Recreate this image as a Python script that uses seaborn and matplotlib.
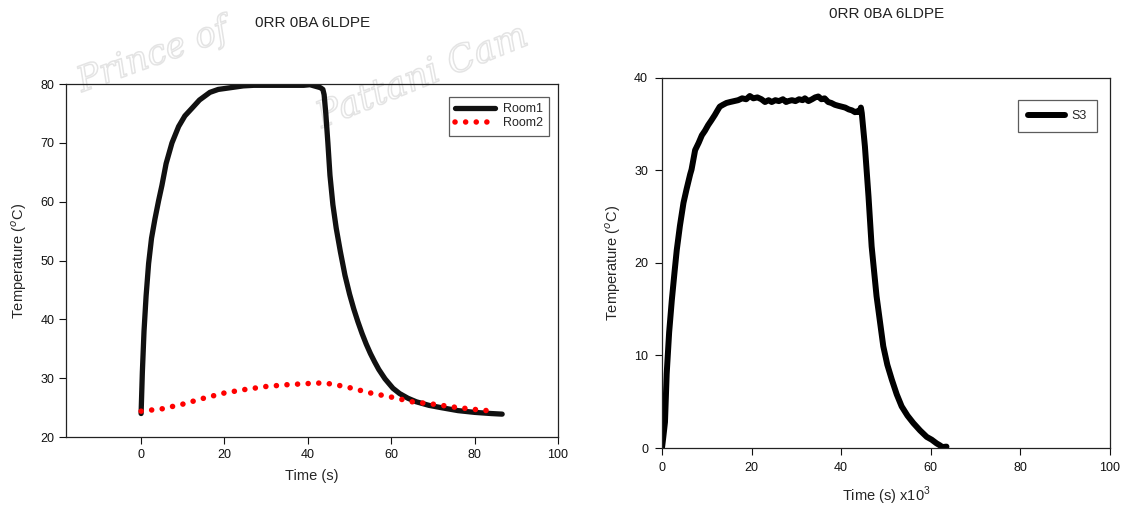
import matplotlib
matplotlib.use("Agg")
import matplotlib.pyplot as plt
import matplotlib.patheffects as pe
from matplotlib import font_manager
import seaborn as sns
import pandas as pd

# ---------------- data ----------------
room1_t = [0, 0.3, 0.7, 1.2, 1.8, 2.5, 3.3, 4.2, 5.0, 6.0, 7.4, 9.0, 10.5, 12.2, 14.0,
           16.5, 18.5, 20.5, 22.5, 24.5, 27, 30, 33, 36, 39, 40.5, 42, 43.0, 43.6, 43.9,
           44.3, 44.8, 45.3, 46.0, 46.8, 47.8, 48.9, 50.0, 51.0, 52.0, 53.0, 54.0, 55.0,
           56.0, 57.0, 58.5, 60.4, 62, 64, 66, 69, 72, 76, 80, 84, 86.6]
room1_T = [24.0, 31.0, 38.0, 44.0, 49.5, 53.8, 57.0, 60.2, 62.8, 66.5, 70.0, 72.8, 74.6, 75.9, 77.3,
           78.6, 79.1, 79.3, 79.5, 79.7, 79.8, 79.8, 79.8, 79.8, 79.8, 79.9, 79.6, 79.4, 79.1, 78.2,
           75.0, 70.0, 64.5, 59.5, 55.5, 51.5, 47.5, 44.3, 41.8, 39.6, 37.6, 35.8, 34.2,
           32.8, 31.5, 29.9, 28.3, 27.4, 26.6, 26.0, 25.4, 25.0, 24.5, 24.2, 24.0, 23.9]

room2_t = [0, 5, 10, 15, 20, 25, 30, 35, 40, 43.4, 46, 50, 55, 60, 65, 70, 75, 80, 84.5]
room2_T = [24.4, 24.8, 25.6, 26.6, 27.5, 28.1, 28.6, 28.9, 29.1, 29.2, 29.0, 28.4, 27.5, 26.8, 26.0, 25.6, 25.1, 24.7, 24.4]

s3_t = [0, 0.3, 0.67, 1.05, 1.6, 2.2, 2.8, 3.3, 4.0, 4.8, 5.5, 6.3, 6.6, 7.4, 8.2, 8.9, 9.6,
        10.3, 11.0, 11.8, 12.4, 12.9, 13.6, 14.4, 15.2, 16.1, 17.0, 17.9, 18.8, 19.6, 20.4,
        21.3, 22.2, 23.0, 23.8, 24.5, 25.3, 26.1, 27.0, 27.7, 28.2, 29.0, 29.8, 30.6, 31.4,
        31.9, 32.7, 33.5, 34.2, 34.9, 35.6, 36.3, 37.1, 37.8, 38.6, 39.3, 40.1, 40.9, 41.7,
        42.4, 43.1, 43.6, 44.1, 44.4, 44.6, 45.3, 46.1, 46.8, 47.9, 49.4, 50.3, 51.3, 52.4,
        53.5, 54.8, 56.1, 57.6, 59.1, 60.2, 61.3, 62.0, 62.6, 63.5]
s3_T = [0.0, 1.2, 2.8, 8.0, 12.5, 16.0, 19.0, 21.4, 24.0, 26.5, 28.0, 29.6, 30.1, 32.2, 33.0, 33.8, 34.3,
        34.9, 35.4, 36.0, 36.5, 36.9, 37.1, 37.3, 37.4, 37.5, 37.6, 37.8, 37.7, 38.05, 37.8,
        37.9, 37.7, 37.4, 37.6, 37.4, 37.6, 37.5, 37.7, 37.4, 37.5, 37.6, 37.5, 37.7, 37.6,
        37.8, 37.5, 37.7, 37.9, 38.0, 37.7, 37.8, 37.4, 37.3, 37.1, 37.0, 36.9, 36.8, 36.6,
        36.5, 36.3, 36.4, 36.3, 36.8, 36.2, 32.6, 27.2, 21.8, 16.4, 11.0, 9.0, 7.4, 5.8,
        4.5, 3.5, 2.7, 1.9, 1.2, 0.9, 0.5, 0.3, 0.1, 0.15]

left_xticks = [0, 20, 40, 60, 80, 100]
left_yticks = [20, 30, 40, 50, 60, 70, 80]
right_xticks = [0, 20, 40, 60, 80, 100]
right_yticks = [0, 10, 20, 30, 40]
title_text = "0RR 0BA 6LDPE"

# ---------------- style ----------------
sns.set_theme(style="white")
available = {f.name for f in font_manager.fontManager.ttflist}
base_font = "Liberation Sans" if "Liberation Sans" in available else "DejaVu Sans"
narrow_font = "Liberation Sans Narrow" if "Liberation Sans Narrow" in available else base_font
plt.rcParams["font.family"] = [base_font, "DejaVu Sans"]
plt.rcParams["mathtext.fontset"] = "custom"
plt.rcParams["mathtext.rm"] = base_font

fig = plt.figure(figsize=(11.31, 5.13), dpi=100)
fig.patch.set_facecolor("white")

# faint watermark, drawn behind the axes
wm_effect = [pe.withStroke(linewidth=1.1, foreground="#e4e4e4")]
fig.text(82 / 1131, 1 - 92 / 513, "Prince of", fontsize=25, family="DejaVu Serif",
         style="italic", color=(1, 1, 1, 0), rotation=20, ha="left", va="baseline",
         rotation_mode="anchor", path_effects=wm_effect, zorder=-1)
fig.text(322 / 1131, 1 - 128 / 513, "Pattani Cam", fontsize=26, family="DejaVu Serif",
         style="italic", color=(1, 1, 1, 0), rotation=22, ha="left", va="baseline",
         rotation_mode="anchor", path_effects=wm_effect, zorder=-1)

ax1 = fig.add_axes([0.0584, 0.148, 0.435, 0.688])
ax2 = fig.add_axes([0.5853, 0.1267, 0.3961, 0.7213])
for ax in (ax1, ax2):
    ax.set_facecolor("none")

df1 = pd.DataFrame({"t": room1_t, "T": room1_T})
df2 = pd.DataFrame({"t": room2_t, "T": room2_T})
df3 = pd.DataFrame({"t": s3_t, "T": s3_T})

dot_style = (0, (0.01, 1.9))

sns.lineplot(data=df1, x="t", y="T", ax=ax1, color="#111111", linewidth=3.8,
             sort=False, estimator=None, label="Room1", solid_capstyle="round",
             solid_joinstyle="round")
sns.lineplot(data=df2, x="t", y="T", ax=ax1, color="#ff0000", linewidth=4.0,
             sort=False, estimator=None, label="Room2")
ax1.lines[1].set_linestyle(dot_style)
ax1.lines[1].set_dash_capstyle("round")

sns.lineplot(data=df3, x="t", y="T", ax=ax2, color="black", linewidth=4.3,
             sort=False, estimator=None, label="S3", solid_capstyle="round",
             solid_joinstyle="round")

# left axes
ax1.set_xlim(-18, 100)
ax1.set_ylim(20, 80)
ax1.set_xticks(left_xticks)
ax1.set_yticks(left_yticks)
ax1.set_xlabel("Time (s)", fontsize=10.5, labelpad=6)
ax1.set_ylabel("Temperature ($^{o}$C)", fontsize=10.5, labelpad=8)
ax1.tick_params(axis="both", direction="out", length=5, width=0.8, labelsize=9,
                colors="#111111", bottom=True, left=True, top=False, right=False)
for s in ax1.spines.values():
    s.set_color("#222222")
    s.set_linewidth(0.9)

leg1 = ax1.legend(loc="upper right", bbox_to_anchor=(0.982, 0.963), borderaxespad=0,
                  fontsize=9, frameon=True, fancybox=False, handlelength=3.2,
                  handletextpad=0.6, borderpad=0.5, labelspacing=0.15)
leg1.get_frame().set_edgecolor("#333333")
leg1.get_frame().set_linewidth(0.9)
leg1.get_lines()[1].set_linestyle(dot_style)
leg1.get_lines()[1].set_dash_capstyle("round")

fig.text(0.276, 0.955, title_text, fontsize=11, ha="center", va="center", color="#222222")

# right axes
ax2.set_xlim(0, 100)
ax2.set_ylim(0, 40)
ax2.set_xticks(right_xticks)
ax2.set_yticks(right_yticks)
ax2.set_xlabel("Time (s) x10$^{3}$", fontsize=10.5, labelpad=8, family=narrow_font)
ax2.set_ylabel("Temperature ($^{o}$C)", fontsize=10.5, labelpad=8, family=narrow_font)
ax2.tick_params(axis="both", direction="out", length=5, width=0.8, labelsize=9,
                colors="#111111", bottom=True, left=True, top=False, right=False, pad=5)
for lab in ax2.get_xticklabels() + ax2.get_yticklabels():
    lab.set_family(narrow_font)
for s in ax2.spines.values():
    s.set_color("#222222")
    s.set_linewidth(0.9)

leg2 = ax2.legend(loc="upper right", bbox_to_anchor=(0.971, 0.9405), borderaxespad=0,
                  fontsize=9, frameon=True, fancybox=False, handlelength=3.0,
                  handletextpad=0.5, borderpad=0.8)
leg2.get_frame().set_edgecolor("#333333")
leg2.get_frame().set_linewidth(0.9)
for t in leg2.get_texts():
    t.set_family(narrow_font)

fig.text(0.784, 0.972, title_text, fontsize=11, ha="center", va="center",
         color="#222222", family=narrow_font)

fig.savefig("out.png", dpi=100, facecolor="white")
